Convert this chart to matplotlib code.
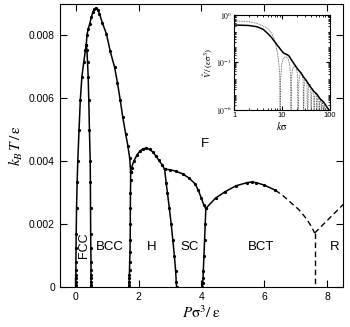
import matplotlib
matplotlib.use("Agg")
import matplotlib.pyplot as plt
import numpy as np

plt.rcParams["font.family"] = ["Liberation Sans", "DejaVu Sans"]
plt.rcParams["mathtext.fontset"] = "stix"

# phase boundaries (P sigma^3/eps, kT/eps)
fcc_left_P = [0.0, 0.0, 0.0, 0.0, 0.01, 0.01, 0.01, 0.015, 0.02, 0.03, 0.05, 0.07, 0.11, 0.15, 0.2, 0.26, 0.31, 0.34]
fcc_left_T = [0.0, 0.00006, 0.00017, 0.00028, 0.00038, 0.00054, 0.0008, 0.00123, 0.0017, 0.0025, 0.00334, 0.004, 0.005, 0.00594, 0.00668, 0.00715, 0.00752, 0.0077]

fcc_right_P = [0.49, 0.49, 0.49, 0.49, 0.49, 0.49, 0.49, 0.485, 0.48, 0.475, 0.47, 0.465, 0.44, 0.42, 0.4, 0.38, 0.36, 0.34]
fcc_right_T = fcc_left_T

bcc_dome_P = [0.34, 0.36, 0.4, 0.45, 0.5, 0.55, 0.6, 0.65, 0.7, 0.76, 0.85, 0.98, 1.1, 1.24, 1.33, 1.42, 1.5, 1.59, 1.66, 1.72, 1.75]
bcc_dome_T = [0.0077, 0.008, 0.0082, 0.00837, 0.00857, 0.00874, 0.00884, 0.00887, 0.00882, 0.00869, 0.0084, 0.00805, 0.0075, 0.00699, 0.0065, 0.00594, 0.0054, 0.00488, 0.0045, 0.0041, 0.00366]

bcc_h_P = [1.75, 1.75, 1.745, 1.74, 1.74, 1.735, 1.73, 1.72, 1.715, 1.71, 1.71, 1.705, 1.7, 1.7]
bcc_h_T = [0.00366, 0.0034, 0.003, 0.0025, 0.002, 0.0015, 0.0011, 0.0008, 0.00054, 0.00038, 0.00028, 0.00017, 0.00006, 0.0]

h_dome_P = [1.75, 1.78, 1.85, 1.95, 2.05, 2.15, 2.25, 2.35, 2.45, 2.55, 2.65, 2.75, 2.83]
h_dome_T = [0.00366, 0.0038, 0.004, 0.0042, 0.00433, 0.0044, 0.00441, 0.00438, 0.0043, 0.00417, 0.00403, 0.00388, 0.00375]

h_sc_P = [2.83, 2.88, 2.92, 2.98, 3.04, 3.09, 3.14, 3.18, 3.2, 3.21]
h_sc_T = [0.00375, 0.0033, 0.003, 0.0025, 0.002, 0.0015, 0.001, 0.0005, 0.00017, 0.0]

sc_fl_P = [2.83, 3.0, 3.2, 3.4, 3.6, 3.8, 3.9, 4.0, 4.08, 4.14]
sc_fl_T = [0.00375, 0.00373, 0.00368, 0.0036, 0.00347, 0.00328, 0.00308, 0.00282, 0.0026, 0.0025]

sc_bct_P = [4.14, 4.12, 4.1, 4.08, 4.06, 4.05, 4.04, 4.03]
sc_bct_T = [0.0025, 0.002, 0.0015, 0.001, 0.0005, 0.00028, 0.00012, 0.0]

bct_fl_P = [4.14, 4.45, 4.75, 5.1, 5.45, 5.6, 5.75, 6.0, 6.35]
bct_fl_T = [0.0025, 0.00283, 0.00303, 0.00322, 0.00332, 0.00334, 0.00332, 0.00324, 0.00308]

bct_fl_dash_P = [6.35, 6.6, 6.87, 7.1, 7.29, 7.45, 7.6]
bct_fl_dash_T = [0.00308, 0.0029, 0.00266, 0.00246, 0.00223, 0.002, 0.00172]

bct_r_P = [7.6, 7.6]
bct_r_T = [0.00172, 0.0]

r_fl_P = [7.6, 8.7]
r_fl_T = [0.00172, 0.00282]

phase_labels = ["BCC", "H", "SC", "BCT", "R", "F"]
label_P = [1.08, 2.41, 3.63, 5.89, 8.22, 4.11]
label_T = [0.00128, 0.00128, 0.00128, 0.00128, 0.00128, 0.00456]

# inset: Fourier transform of the potential, log10 values
k_solid = [1, 2, 3, 4, 5, 6, 7, 8, 9, 10, 11, 12, 13, 14, 15, 17, 19, 22, 25, 28, 32, 38, 45, 53, 62, 73, 85, 100]
v_solid_log = [-0.63, -0.66, -0.74, -0.9, -1.16, -1.42, -1.69, -1.92, -2.12, -2.3, -2.42, -2.48, -2.52, -2.6, -2.75,
               -3.0, -3.22, -3.48, -3.68, -3.92, -4.15, -4.5, -4.8, -5.0, -5.3, -5.5, -5.8, -6.1]

k_dot = [1, 2, 3, 4, 5, 6, 7, 8, 8.6, 8.9, 9.1,
         9.3, 9.8, 10.5, 11.5, 12.5, 13.5, 14.5, 15.0, 15.4,
         15.7, 16.5, 18, 19.5, 20.8, 21.8,
         22.2, 23.5, 25, 26.5, 27.5, 28.1,
         28.6, 30, 31.5, 33, 34.4,
         35, 36.5, 38, 39.5, 40.7,
         41.4, 43.5, 45.5, 47,
         47.7, 50, 52, 53.3,
         54, 56.5, 58.5, 59.6,
         60.4, 63, 65, 65.9,
         66.8, 69, 71.2, 72.2,
         73, 75.5, 77.5, 78.5,
         81.5, 84.8, 88, 91.1, 94, 97.4]
v_dot_log = [-0.36, -0.42, -0.53, -0.68, -0.84, -1.15, -1.58, -2.4, -3.1, -3.8, -8,
             -4.0, -3.1, -2.8, -2.65, -2.65, -2.8, -3.2, -3.8, -8,
             -4.0, -3.4, -3.2, -3.3, -3.7, -8,
             -4.3, -3.75, -3.65, -3.8, -4.2, -8,
             -4.6, -4.1, -4.05, -4.2, -8,
             -4.8, -4.4, -4.35, -4.6, -8,
             -5.0, -4.65, -4.8, -8,
             -5.2, -4.9, -5.1, -8,
             -5.4, -5.1, -5.3, -8,
             -5.6, -5.3, -5.6, -8,
             -5.8, -5.5, -5.8, -8,
             -5.9, -5.7, -6.0, -8,
             -5.9, -8, -6.05, -8, -6.1, -8]

fig = plt.figure(figsize=(3.5, 3.27), dpi=100)
ax = fig.add_axes([0.171, 0.122, 0.809, 0.866])

solid_lines = [(fcc_left_P, fcc_left_T), (fcc_right_P, fcc_right_T), (bcc_dome_P, bcc_dome_T),
               (bcc_h_P, bcc_h_T), (h_dome_P, h_dome_T), (h_sc_P, h_sc_T), (sc_fl_P, sc_fl_T),
               (sc_bct_P, sc_bct_T), (bct_fl_P, bct_fl_T)]
for P, T in solid_lines:
    ax.plot(P, T, color="k", lw=1.1, marker="o", ms=1.3)

for P, T in [(bct_fl_dash_P, bct_fl_dash_T), (bct_r_P, bct_r_T), (r_fl_P, r_fl_T)]:
    ax.plot(P, T, color="k", lw=1.0, ls=(0, (4, 2.5)))

for name, p, t in zip(phase_labels, label_P, label_T):
    ax.text(p, t, name, fontsize=9.5, ha="center", va="center")
ax.text(0.26, 0.00133, "FCC", fontsize=9, ha="center", va="center", rotation=90)

ax.set_xlim(-0.5, 8.5)
ax.set_ylim(0, 0.009)
ax.set_xticks([0, 2, 4, 6, 8])
ax.set_yticks([0, 0.002, 0.004, 0.006, 0.008])
ax.set_yticklabels(["0", "0.002", "0.004", "0.006", "0.008"])
ax.tick_params(direction="in", top=True, right=True, length=5, width=0.8, labelsize=7.5)
ax.set_xlabel(r"$P\mathrm{\sigma}^3/\,\mathrm{\varepsilon}$", fontsize=11, labelpad=2)
ax.set_ylabel(r"$k_B\,T\,/\,\mathrm{\varepsilon}$", fontsize=11, labelpad=3)

# inset
ins = fig.add_axes([0.669, 0.664, 0.274, 0.29])
ins.plot(k_dot, 10.0 ** np.array(v_dot_log), color="0.3", lw=0.6, ls=(0, (1, 1)))
ins.plot(k_solid, 10.0 ** np.array(v_solid_log), color="k", lw=1.1)
ins.set_xscale("log")
ins.set_yscale("log")
ins.set_xlim(1, 100)
ins.set_ylim(1e-6, 1)
ins.set_yticks([1e-6, 1e-3, 1])
ins.set_yticklabels([r"$10^{-6}$", r"$10^{-3}$", r"$10^{0}$"])
ins.set_xticks([1, 10, 100])
ins.set_xticklabels(["1", "10", "100"])
ins.tick_params(which="both", direction="in", top=True, right=True, labelsize=5.5, pad=1.5)
ins.tick_params(which="major", length=3)
ins.tick_params(which="minor", length=1.5)
ins.set_xlabel(r"$k\mathrm{\sigma}$", fontsize=7.5, labelpad=0.5)
ins.set_ylabel(r"$\hat{V}\,/\,(\mathrm{\varepsilon\sigma}^3)$", fontsize=6.5, labelpad=0.5)

fig.savefig("out.png", dpi=100)
